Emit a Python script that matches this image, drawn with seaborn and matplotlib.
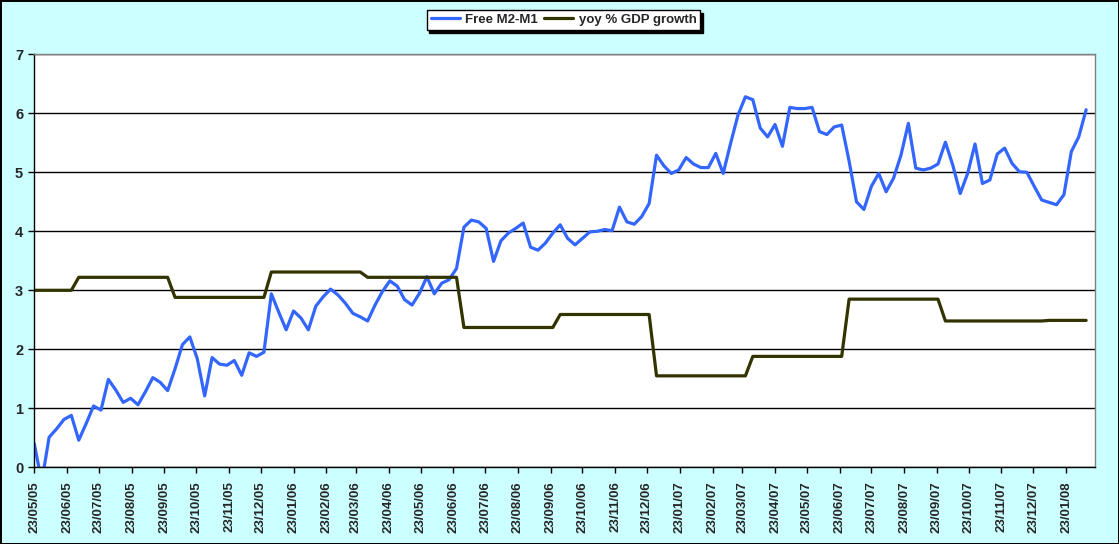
import numpy as np
import pandas as pd
import matplotlib
matplotlib.use('Agg')
import matplotlib.pyplot as plt
from matplotlib.lines import Line2D
import seaborn as sns

# ---------------- data ----------------
start_date = '2005-05-23'          # first weekly observation
series_names = ['Free M2-M1', 'yoy % GDP growth']

free_m2_m1 = [
    0.40, -0.25, 0.51, 0.65, 0.81, 0.88, 0.46, 0.74, 1.04, 0.97,
    1.49, 1.31, 1.10, 1.17, 1.06, 1.28, 1.52, 1.44, 1.30, 1.67,
    2.08, 2.21, 1.84, 1.21, 1.86, 1.75, 1.73, 1.81, 1.56, 1.94,
    1.88, 1.95, 2.94, 2.63, 2.33, 2.65, 2.53, 2.33, 2.73, 2.89,
    3.02, 2.92, 2.78, 2.61, 2.55, 2.48, 2.75, 2.98, 3.16, 3.07,
    2.84, 2.75, 2.95, 3.23, 2.94, 3.12, 3.18, 3.37, 4.07, 4.19,
    4.16, 4.05, 3.49, 3.84, 3.97, 4.05, 4.14, 3.73, 3.68, 3.80,
    3.97, 4.11, 3.88, 3.77, 3.88, 3.99, 4.00, 4.03, 4.01, 4.41,
    4.16, 4.12, 4.25, 4.47, 5.29, 5.11, 4.98, 5.04, 5.25, 5.14,
    5.08, 5.08, 5.32, 4.98, 5.49, 5.97, 6.28, 6.23, 5.75, 5.60,
    5.81, 5.44, 6.10, 6.08, 6.08, 6.10, 5.69, 5.64, 5.77, 5.80,
    5.19, 4.50, 4.37, 4.76, 4.98, 4.67, 4.90, 5.29, 5.83, 5.07,
    5.04, 5.07, 5.14, 5.51, 5.12, 4.64, 4.98, 5.48, 4.81, 4.87,
    5.31, 5.41, 5.15, 5.01, 5.00, 4.76, 4.53, 4.49, 4.45, 4.62,
    5.35, 5.60, 6.06,
]

gdp_growth = [
    3.00, 3.00, 3.00, 3.00, 3.00, 3.00,
    3.22, 3.22, 3.22, 3.22, 3.22, 3.22, 3.22, 3.22, 3.22, 3.22, 3.22, 3.22, 3.22,
    2.88, 2.88, 2.88, 2.88, 2.88, 2.88, 2.88, 2.88, 2.88, 2.88, 2.88, 2.88, 2.88,
    3.31, 3.31, 3.31, 3.31, 3.31, 3.31, 3.31, 3.31, 3.31, 3.31, 3.31, 3.31, 3.31,
    3.22, 3.22, 3.22, 3.22, 3.22, 3.22, 3.22, 3.22, 3.22, 3.22, 3.22, 3.22, 3.22,
    2.37, 2.37, 2.37, 2.37, 2.37, 2.37, 2.37, 2.37, 2.37, 2.37, 2.37, 2.37, 2.37,
    2.59, 2.59, 2.59, 2.59, 2.59, 2.59, 2.59, 2.59, 2.59, 2.59, 2.59, 2.59, 2.59,
    1.55, 1.55, 1.55, 1.55, 1.55, 1.55, 1.55, 1.55, 1.55, 1.55, 1.55, 1.55, 1.55,
    1.88, 1.88, 1.88, 1.88, 1.88, 1.88, 1.88, 1.88, 1.88, 1.88, 1.88, 1.88, 1.88,
    2.85, 2.85, 2.85, 2.85, 2.85, 2.85, 2.85, 2.85, 2.85, 2.85, 2.85, 2.85, 2.85,
    2.48, 2.48, 2.48, 2.48, 2.48, 2.48, 2.48, 2.48, 2.48, 2.48, 2.48, 2.48, 2.48, 2.48,
    2.49, 2.49, 2.49, 2.49, 2.49, 2.49,
]

tick_start = '2005-05-23'
tick_end = '2008-01-23'
y_ticks = [0, 1, 2, 3, 4, 5, 6, 7]

# ---------------- frame ----------------
dates = pd.date_range(start_date, periods=len(free_m2_m1), freq='7D')
df = pd.DataFrame({'date': dates,
                   series_names[0]: free_m2_m1,
                   series_names[1]: gdp_growth})
long_df = df.melt(id_vars='date', var_name='series', value_name='value')

tick_dates = pd.date_range(tick_start, tick_end, freq=pd.DateOffset(months=1))
tick_labels = [d.strftime('%d/%m/%y') for d in tick_dates]

# ---------------- style ----------------
sns.set_style('white')
plt.rcParams['font.family'] = ['Liberation Sans', 'DejaVu Sans']
plt.rcParams['font.weight'] = 'bold'

colors = ['#3366FF', '#333300']

W, H = 1119, 544
fig = plt.figure(figsize=(W / 100, H / 100), dpi=100, facecolor='#CCFFFF')
fig.patch.set_edgecolor('black')
fig.patch.set_linewidth(2)

left, right, top, bottom = 34.3, 1094.6, 54.3, 467.3
ax = fig.add_axes([left / W, 1 - bottom / H, (right - left) / W, (bottom - top) / H])
ax.set_facecolor('white')

sns.lineplot(data=long_df, x='date', y='value', hue='series',
             hue_order=series_names, palette=colors, linewidth=2.3,
             ax=ax, legend=False, estimator=None)

ax.set_xlim(pd.Timestamp('2005-05-23'), pd.Timestamp('2008-02-19'))
ax.set_ylim(0, 7)
ax.set_yticks(y_ticks)
ax.set_yticklabels([str(v) for v in y_ticks])
ax.set_xticks(tick_dates)
ax.set_xticklabels(tick_labels, rotation=90)
ax.set_xlabel('')
ax.set_ylabel('')

ax.yaxis.grid(True, color='black', linewidth=1.0)
ax.xaxis.grid(False)
ax.set_axisbelow(True)

for side in ['left', 'bottom']:
    ax.spines[side].set_color('black')
    ax.spines[side].set_linewidth(1.0)
for side in ['top', 'right']:
    ax.spines[side].set_color('#808080')
    ax.spines[side].set_linewidth(1.0)

ax.tick_params(axis='both', direction='out', length=4, width=1, color='black',
               left=True, bottom=True)
ax.tick_params(axis='y', labelsize=10.5, pad=4)
ax.tick_params(axis='x', labelsize=9.5, pad=6)
for lbl in ax.get_xticklabels() + ax.get_yticklabels():
    lbl.set_fontweight('bold')

handles = [Line2D([0], [0], color=c, linewidth=2.3) for c in colors]
fig.legend(handles, series_names, loc='center', bbox_to_anchor=(563.5 / W, 1 - 20 / H),
           ncol=2, frameon=True, fancybox=False, edgecolor='black', framealpha=1,
           facecolor='white', shadow={'color': 'black', 'alpha': 1},
           prop={'size': 9.5, 'weight': 'bold'}, handlelength=2.2,
           handletextpad=0.4, columnspacing=0.5, borderpad=0.3, borderaxespad=0)

fig.savefig('out.png', dpi=100, facecolor=fig.get_facecolor(),
            edgecolor=fig.get_edgecolor())
